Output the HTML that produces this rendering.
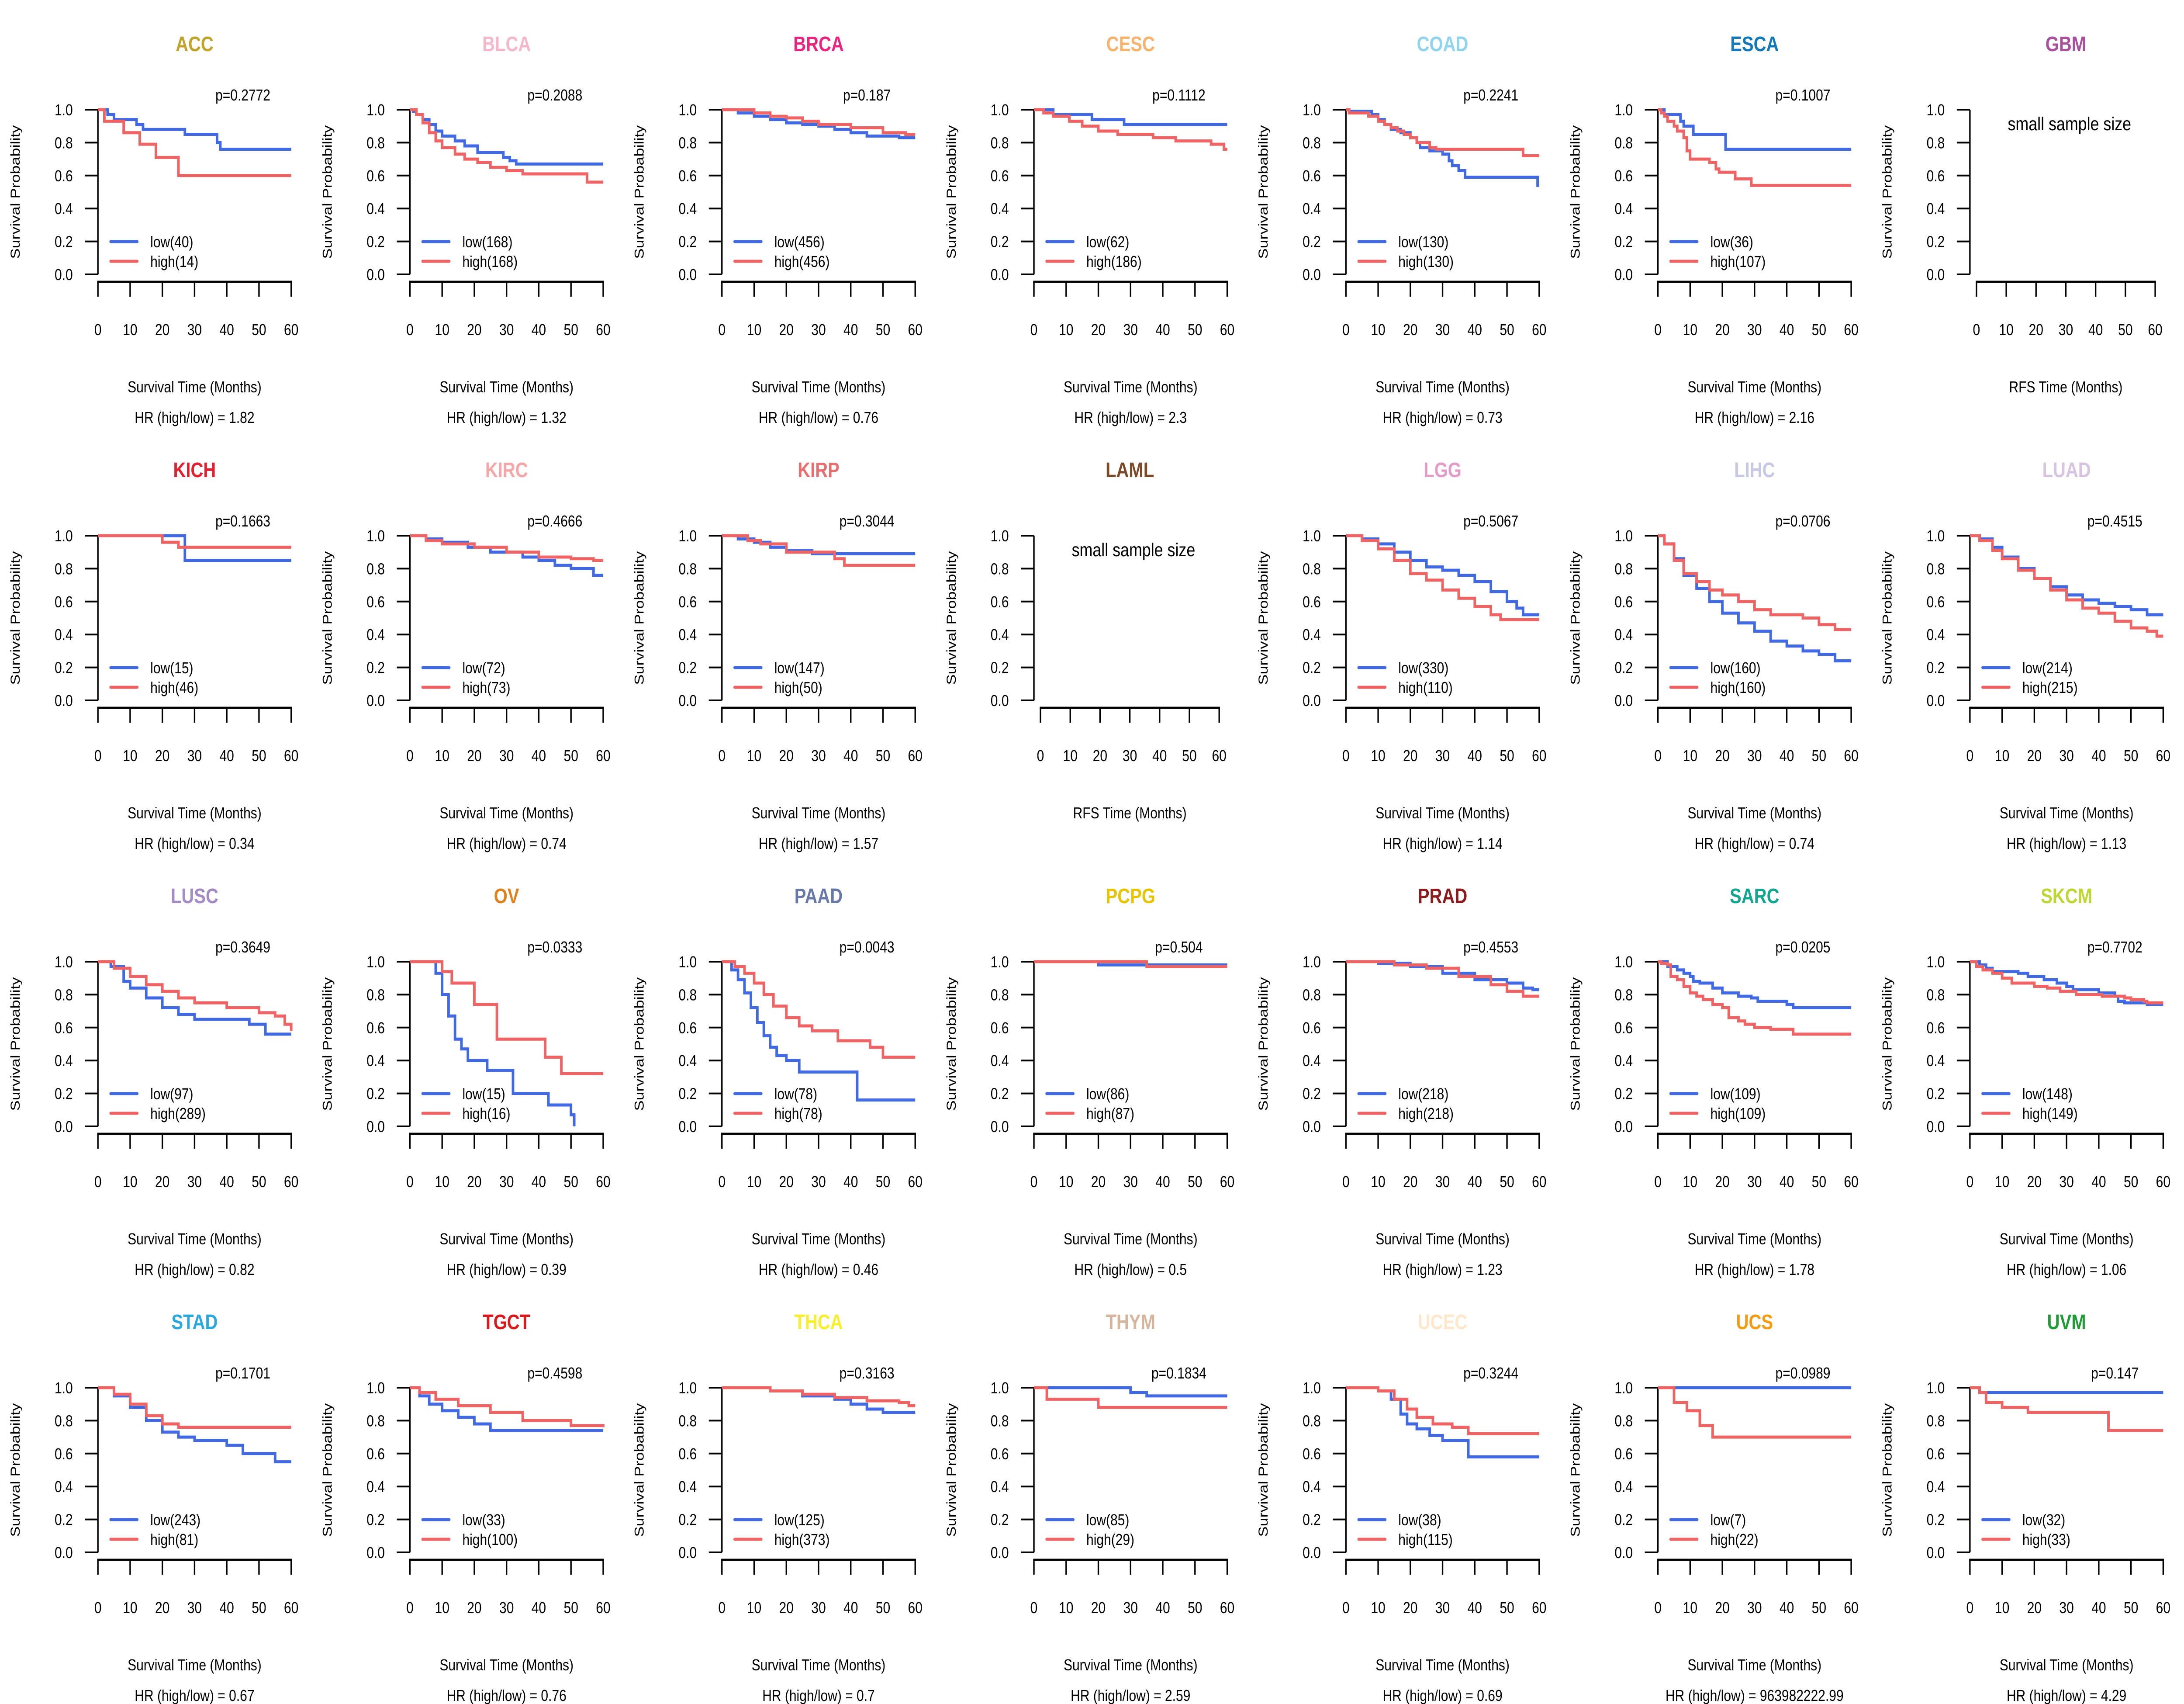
<!DOCTYPE html>
<html><head><meta charset="utf-8"><style>
html,body{margin:0;padding:0;background:#fff;overflow:hidden;width:100%;height:100%;}
svg{display:block;font-family:"Liberation Sans",Arial,sans-serif;width:100vw;height:100vh;}
</style></head><body>
<svg id="chart" viewBox="0 0 6000 3900" preserveAspectRatio="none" xmlns="http://www.w3.org/2000/svg"></svg>
<script>
const cancers = ["ACC","BLCA","BRCA","CESC","COAD","ESCA","GBM","KICH","KIRC","KIRP","LAML","LGG","LIHC","LUAD","LUSC","OV","PAAD","PCPG","PRAD","SARC","SKCM","STAD","TGCT","THCA","THYM","UCEC","UCS","UVM"];
const titleColors = ["#C2A32B","#F5B8CB","#E8267F","#F5B36E","#90D4F0","#1479B6","#A9519F","#E3202D","#F5A7A7","#E86F70","#7C4A29","#E39BC7","#C6C8E4","#D7C4E1","#A38BC5","#E0811F","#6779A7","#E6C400","#8E1B1B","#12A58F","#BED737","#2CA8DC","#D81A1E","#F7EE2E","#D5B59C","#FFE7CB","#F39C12","#1F9C35"];
const pValues = ["p=0.2772","p=0.2088","p=0.187","p=0.1112","p=0.2241","p=0.1007","","p=0.1663","p=0.4666","p=0.3044","","p=0.5067","p=0.0706","p=0.4515","p=0.3649","p=0.0333","p=0.0043","p=0.504","p=0.4553","p=0.0205","p=0.7702","p=0.1701","p=0.4598","p=0.3163","p=0.1834","p=0.3244","p=0.0989","p=0.147"];
const hrValues = ["1.82","1.32","0.76","2.3","0.73","2.16","","0.34","0.74","1.57","","1.14","0.74","1.13","0.82","0.39","0.46","0.5","1.23","1.78","1.06","0.67","0.76","0.7","2.59","0.69","963982222.99","4.29"];
const lowN = [40,168,456,62,130,36,0,15,72,147,0,330,160,214,97,15,78,86,218,109,148,243,33,125,85,38,7,32];
const highN = [14,168,456,186,130,107,0,46,73,50,0,110,160,215,289,16,78,87,218,109,149,81,100,373,29,115,22,33];
const xTicks = [0,10,20,30,40,50,60];
const yTicks = [0,0.2,0.4,0.6,0.8,1.0];
const lowCurves = [
 [[0,1],[3,.97],[5,.94],[12,.91],[14,.88],[27,.85],[37,.8],[38,.76],[60,.76]],
 [[0,1],[1,.99],[2,.97],[4,.94],[6,.91],[8,.87],[10,.84],[14,.81],[17,.78],[21,.74],[29,.71],[31,.69],[33,.67],[60,.67]],
 [[0,1],[5,.98],[10,.96],[15,.94],[20,.92],[25,.91],[30,.9],[35,.88],[40,.86],[45,.84],[55,.83],[60,.83]],
 [[0,1],[6,.97],[18,.94],[28,.91],[60,.91]],
 [[0,1],[1,.99],[8,.97],[10,.94],[12,.91],[14,.88],[17,.86],[20,.83],[22,.8],[23,.77],[26,.75],[30,.73],[32,.69],[33,.66],[35,.63],[37,.59],[59.5,.54],[60,.54]],
 [[0,1],[2,.97],[7,.93],[8,.9],[11,.85],[21,.76],[60,.76]],
 [],
 [[0,1],[27,.85],[60,.85]],
 [[0,1],[5,.98],[10,.96],[18,.93],[25,.9],[35,.87],[40,.85],[45,.82],[50,.8],[57,.76],[60,.76]],
 [[0,1],[5,.98],[10,.96],[15,.93],[20,.91],[28,.89],[60,.89]],
 [],
 [[0,1],[5,.98],[10,.95],[15,.9],[20,.85],[25,.81],[30,.79],[35,.76],[40,.72],[45,.66],[50,.6],[53,.56],[55,.52],[60,.52]],
 [[0,1],[2,.95],[5,.86],[8,.76],[12,.68],[16,.6],[20,.53],[25,.47],[30,.42],[35,.36],[40,.33],[45,.3],[50,.28],[55,.24],[60,.24]],
 [[0,1],[3,.98],[7,.93],[10,.87],[15,.8],[20,.74],[25,.69],[30,.64],[35,.61],[40,.59],[45,.57],[50,.55],[55,.52],[60,.52]],
 [[0,1],[4,.97],[8,.88],[10,.84],[15,.78],[20,.72],[25,.68],[30,.65],[47,.62],[52,.56],[60,.56]],
 [[0,1],[8,.93],[10,.8],[12,.67],[14,.53],[16,.47],[18,.4],[24,.34],[32,.2],[43,.13],[50,.07],[51,0]],
 [[0,1],[3,.95],[5,.89],[7,.81],[9,.72],[11,.63],[13,.55],[15,.48],[17,.43],[20,.4],[24,.33],[42,.16],[60,.16]],
 [[0,1],[20,.98],[60,.98]],
 [[0,1],[10,.99],[20,.97],[30,.93],[40,.89],[50,.87],[55,.84],[58,.83],[60,.83]],
 [[0,1],[3,.97],[6,.95],[8,.93],[10,.91],[11,.88],[13,.87],[17,.84],[20,.81],[25,.79],[29,.78],[31,.76],[40,.74],[42,.72],[60,.72]],
 [[0,1],[3,.98],[5,.96],[7,.94],[15,.93],[18,.91],[23,.89],[27,.87],[30,.85],[32,.83],[40,.81],[45,.79],[46,.76],[48,.75],[55,.74],[60,.74]],
 [[0,1],[5,.95],[10,.88],[15,.8],[20,.73],[25,.7],[30,.68],[40,.65],[45,.6],[55,.55],[60,.55]],
 [[0,1],[3,.95],[6,.9],[10,.86],[15,.82],[20,.78],[25,.74],[60,.74]],
 [[0,1],[15,.98],[25,.95],[35,.93],[40,.9],[45,.87],[50,.85],[60,.85]],
 [[0,1],[30,.97],[35,.95],[60,.95]],
 [[0,1],[10,.98],[14,.93],[17,.84],[19,.78],[22,.75],[26,.71],[30,.68],[38,.58],[60,.58]],
 [[0,1],[60,1]],
 [[0,1],[3,.97],[60,.97]]
];
const highCurves = [
 [[0,1],[2,.93],[8,.86],[13,.79],[18,.71],[25,.6],[60,.6]],
 [[0,1],[2,.97],[4,.92],[6,.86],[8,.81],[10,.77],[14,.73],[17,.7],[21,.68],[25,.65],[30,.63],[35,.61],[55,.56],[60,.56]],
 [[0,1],[10,.98],[15,.96],[20,.95],[25,.93],[30,.91],[40,.89],[50,.86],[57,.85],[60,.85]],
 [[0,1],[3,.98],[6,.96],[11,.93],[15,.9],[20,.87],[26,.85],[37,.83],[44,.81],[55,.79],[59,.76],[60,.76]],
 [[0,1],[1,.98],[7,.96],[10,.93],[12,.91],[14,.89],[16,.87],[18,.85],[20,.83],[22,.8],[26,.77],[28,.76],[55,.72],[60,.72]],
 [[0,1],[1,.98],[2,.96],[3,.93],[5,.9],[6,.87],[8,.83],[9,.75],[10,.7],[16,.68],[18,.64],[19,.62],[24,.58],[29,.54],[60,.54]],
 [],
 [[0,1],[20,.96],[25,.93],[60,.93]],
 [[0,1],[5,.97],[10,.95],[20,.93],[30,.9],[40,.87],[50,.86],[57,.85],[60,.85]],
 [[0,1],[8,.97],[12,.95],[20,.9],[35,.86],[38,.82],[60,.82]],
 [],
 [[0,1],[5,.97],[10,.92],[15,.85],[20,.77],[25,.73],[30,.67],[35,.62],[40,.57],[45,.52],[48,.49],[60,.49]],
 [[0,1],[2,.95],[5,.85],[8,.77],[12,.72],[16,.67],[20,.64],[25,.6],[30,.55],[35,.52],[45,.5],[50,.46],[55,.43],[60,.43]],
 [[0,1],[3,.97],[7,.91],[10,.86],[15,.79],[20,.74],[25,.67],[30,.61],[35,.56],[40,.53],[45,.48],[50,.44],[55,.42],[58,.39],[60,.39]],
 [[0,1],[5,.96],[10,.91],[15,.86],[20,.82],[25,.78],[30,.75],[40,.72],[50,.69],[55,.67],[58,.62],[60,.58]],
 [[0,1],[10,.94],[13,.87],[20,.74],[27,.53],[42,.42],[47,.32],[60,.32]],
 [[0,1],[4,.97],[7,.93],[10,.87],[13,.8],[16,.73],[20,.66],[24,.61],[28,.58],[36,.52],[46,.48],[50,.42],[60,.42]],
 [[0,1],[35,.97],[60,.97]],
 [[0,1],[15,.98],[25,.96],[35,.91],[45,.86],[50,.82],[55,.79],[60,.79]],
 [[0,1],[1,.99],[3,.98],[4,.91],[6,.89],[8,.85],[10,.81],[12,.79],[14,.77],[17,.74],[20,.72],[22,.66],[25,.64],[27,.62],[30,.6],[35,.59],[42,.56],[60,.56]],
 [[0,1],[2,.97],[4,.95],[7,.93],[10,.9],[13,.87],[20,.85],[24,.84],[28,.82],[33,.8],[41,.79],[48,.78],[50,.77],[54,.76],[55,.75],[60,.75]],
 [[0,1],[5,.96],[10,.9],[15,.83],[20,.78],[25,.76],[60,.76]],
 [[0,1],[3,.97],[8,.93],[15,.89],[25,.85],[35,.8],[50,.77],[60,.76]],
 [[0,1],[15,.98],[25,.96],[35,.94],[45,.92],[55,.91],[58,.89],[60,.89]],
 [[0,1],[4,.93],[20,.88],[60,.88]],
 [[0,1],[10,.98],[15,.93],[19,.87],[22,.82],[27,.78],[33,.76],[38,.72],[60,.72]],
 [[0,1],[5,.91],[9,.86],[13,.77],[17,.7],[60,.7]],
 [[0,1],[3,.97],[5,.91],[10,.88],[18,.85],[43,.74],[60,.74]]
];

const NS = "http://www.w3.org/2000/svg";
const svg = document.getElementById("chart");
function mk(tag, attrs, parent){ const e=document.createElementNS(NS,tag); for(const k in attrs) e.setAttribute(k,attrs[k]); (parent||svg).appendChild(e); return e; }
function txt(s, attrs, parent){ const e=mk("text",attrs,parent); e.textContent=s; return e; }
const PW = 6000/7, PH = 975, FS = 36;

cancers.forEach((name, i) => {
  const c = i % 7, r = Math.floor(i / 7);
  const ox = c * PW, oy = r * PH;
  const empty = lowCurves[i].length === 0;
  const g = mk("g", {});
  
  
  const yAxisX = ox + 269;
  const x0 = ox + (empty ? 287 : 269), x1 = ox + (empty ? 778 : 800);
  const X = t => x0 + t * (x1 - x0) / 60;
  const Y = s => oy + 628 - s * 377;

  const title = txt(name, {x: (x0 + x1) / 2, y: oy + 117, "text-anchor": "middle", "font-size": 48, "font-weight": "bold", fill: titleColors[i]}, g);
  
  

  const ya = mk("g", {}, g);
  
  
  mk("line", {x1: yAxisX, y1: Y(0), x2: yAxisX, y2: Y(1), stroke: "#000", "stroke-width": 4}, ya);
  yTicks.forEach(v => {
    mk("line", {x1: yAxisX - 36, y1: Y(v), x2: yAxisX, y2: Y(v), stroke: "#000", "stroke-width": 4}, ya);
    txt(v.toFixed(1), {x: ox + 200, y: Y(v) + 13, "text-anchor": "end", "font-size": FS}, ya);
  });
  const yt = txt("Survival Probability", {x: 0, y: 0, "text-anchor": "middle", "font-size": FS, transform: `translate(${ox + 54},${Y(0.5)}) rotate(-90)`}, g);
  
  

  const xa = mk("g", {}, g);
  
  
  mk("line", {x1: X(0) - 2, y1: oy + 645, x2: X(60) + 2, y2: oy + 645, stroke: "#000", "stroke-width": 5}, xa);
  xTicks.forEach(v => {
    mk("line", {x1: X(v), y1: oy + 645, x2: X(v), y2: oy + 679, stroke: "#000", "stroke-width": 4}, xa);
    txt(String(v), {x: X(v), y: oy + 767, "text-anchor": "middle", "font-size": FS}, xa);
  });
  const xt = txt(empty ? "RFS Time (Months)" : "Survival Time (Months)", {x: (x0 + x1) / 2, y: oy + 898, "text-anchor": "middle", "font-size": FS}, g);
  
  

  if (empty) {
    const ss = txt("small sample size", {x: (x0 + x1) / 2 + 10, y: oy + 298, "text-anchor": "middle", "font-size": 43}, g);
    
    
    return;
  }

  const pv = txt(pValues[i], {x: X(45), y: oy + 230, "text-anchor": "middle", "font-size": FS}, g);
  
  
  const hr = txt("HR (high/low) =  " + hrValues[i], {x: X(30), y: oy + 968, "text-anchor": "middle", "font-size": FS}, g);
  
  

  function stepPath(pts){
    let d = `M${X(pts[0][0])},${Y(pts[0][1])}`;
    for (let k = 1; k < pts.length; k++) {
      d += ` H${X(pts[k][0])} V${Y(pts[k][1])}`;
    }
    return d;
  }
  const lowP = mk("path", {d: stepPath(lowCurves[i]), fill: "none", stroke: "#4169E1", "stroke-width": 7}, g);
  
  
  const highP = mk("path", {d: stepPath(highCurves[i]), fill: "none", stroke: "#EE6363", "stroke-width": 7}, g);
  
  

  const lg = mk("g", {}, g);
  
  
  const e1 = mk("g", {}, lg);
  
  
  mk("line", {x1: ox + 304, y1: oy + 553, x2: ox + 377, y2: oy + 553, stroke: "#4169E1", "stroke-width": 7, "stroke-linecap": "round"}, e1);
  txt(`low(${lowN[i]})`, {x: ox + 413, y: oy + 566, "font-size": FS}, e1);
  const e2 = mk("g", {}, lg);
  
  
  mk("line", {x1: ox + 304, y1: oy + 598, x2: ox + 377, y2: oy + 598, stroke: "#EE6363", "stroke-width": 7, "stroke-linecap": "round"}, e2);
  txt(`high(${highN[i]})`, {x: ox + 413, y: oy + 611, "font-size": FS}, e2);
});
</script>
</body></html>
